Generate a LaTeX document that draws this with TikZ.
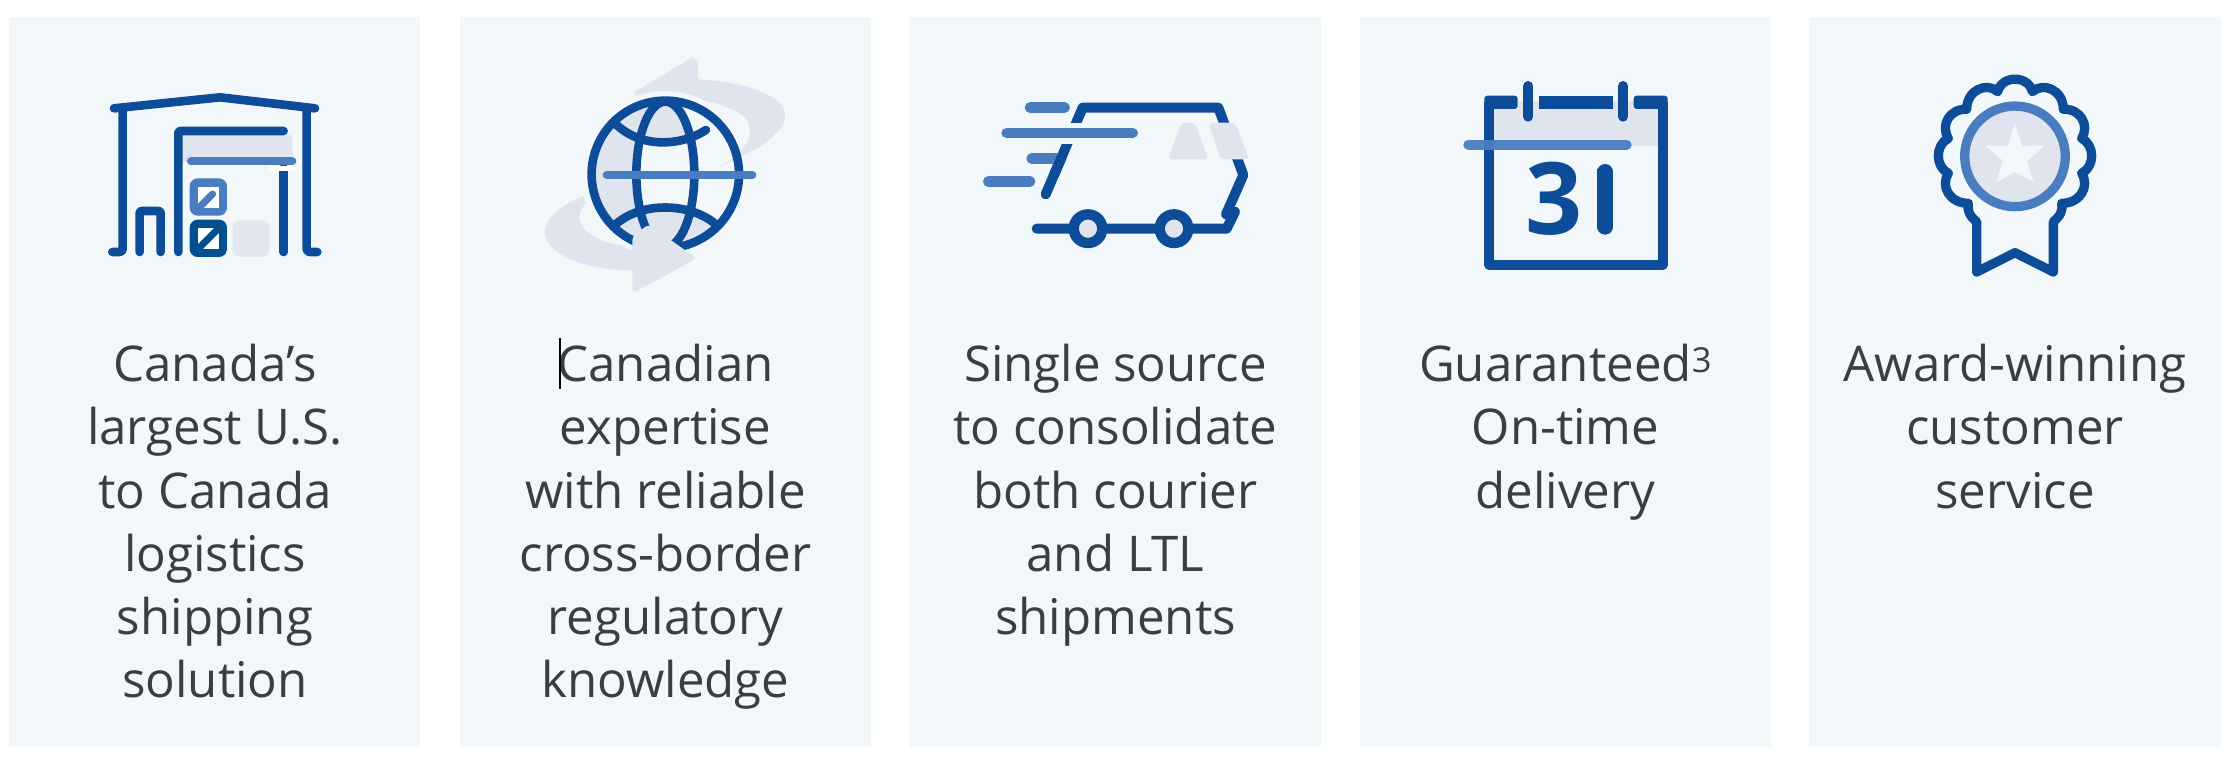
\documentclass[tikz,border=0pt]{standalone}
\usepackage{fontspec}
\setmainfont{Open Sans}
\definecolor{panelc}{HTML}{F2F7FA}
\definecolor{darkb}{HTML}{0D4C99}
\definecolor{boxb}{HTML}{00508F}
\definecolor{midb}{HTML}{4A7DC0}
\definecolor{grayb}{HTML}{E0E4EE}
\definecolor{grayc}{HTML}{E3E8F0}
\definecolor{textc}{HTML}{3D3D40}
\tikzset{
  panel/.style={fill=panelc,draw=none},
  lbl/.style={anchor=north,align=center,inner sep=0pt,outer sep=0pt,text=textc,
    font=\fontsize{49.2}{63.1}\selectfont,
    execute at begin node={\rule{0pt}{40pt}}},
  thick8/.style={draw=darkb,line width=8.6pt,line cap=round,line join=round},
  bar8/.style={draw=midb,line width=8pt,line cap=round},
  zoomed/.style={x=0.33333pt,y=-0.33333pt}
}
\begin{document}
\begin{tikzpicture}[x=1pt,y=-1pt]
\useasboundingbox (0,0) rectangle (2230,760);
\fill[white] (0,0) rectangle (2230,760);
\foreach \a/\b in {9/420,460/871,910/1320.5,1360/1771,1809/2221}
  \fill[panel] (\a,17) rectangle (\b,746.7);

% Icon 1: warehouse
\begin{scope}[shift={(0,40)},zoomed]
\fill[grayb,rounded corners=3pt] (547,285) rectangle (877,365);
\fill[grayb] (547,300) rectangle (600,365);
\draw[thick8] (342,205) -- (660,172) -- (945,205);
\draw[thick8,rounded corners=3pt] (337,636) -- (368,636) -- (368,205);
\draw[thick8,rounded corners=3pt] (952,636) -- (920,636) -- (920,205);
\draw[thick8,rounded corners=2pt] (419,636) -- (419,513) -- (482,513) -- (482,636);
\draw[thick8,rounded corners=2pt] (535,636) -- (535,273) -- (851,273);
\draw[thick8] (851,385) -- (851,636);
\fill[white] (807,378) rectangle (885,393);
\draw[bar8] (573,364) -- (877,364);
\fill[midb,rounded corners=8pt] (569,415) rectangle (681,527);
\fill[white] (594,440) rectangle (657,503);
\begin{scope}
\clip (594,440) rectangle (657,503);
\draw[midb,line width=7pt,line cap=round] (590,510) -- (638,462);
\end{scope}
\fill[boxb,rounded corners=8pt] (569,539) rectangle (681,651);
\fill[white] (594,564) rectangle (657,627);
\begin{scope}
\clip (594,564) rectangle (657,627);
\draw[boxb,line width=7pt] (580,641) -- (671,550);
\end{scope}
\fill[grayc,rounded corners=8pt] (698,540) rectangle (809,651);
\end{scope}

% Icon 2: globe
\begin{scope}[shift={(500,40)},zoomed]
\def\toparrow{(400,158) -- (578,52) -- (594,62) -- (594,118) .. controls (730,125) and (855,165) .. (855,225) .. controls (855,285) and (760,335) .. (650,385) .. controls (680,370) and (700,355) .. (722,335) .. controls (760,290) and (765,240) .. (700,210) .. controls (680,200) and (650,188) .. (590,178) -- (420,178) -- cycle}
\fill[grayb] \toparrow;
\fill[grayb] (397,692) .. controls (250,690) and (135,640) .. (135,575) .. controls (135,530) and (195,490) .. (250,468) -- (256,490) .. controls (240,510) and (235,530) .. (240,545) .. controls (255,590) and (330,618) .. (397,618) -- cycle;
\fill[panelc] (496,403) circle[radius=83.3pt];
\begin{scope}
\clip (496,403) circle[radius=73.7pt];
\fill[grayb] (496,403) circle[radius=80pt];
\fill[panelc] (409,300) .. controls (460,312) and (530,312) .. (581,295)
  .. controls (570,240) and (545,190) .. (510,180) -- (800,100) -- (800,565) -- (650,555)
  .. controls (600,505) and (450,490) .. (409,510) -- cycle;
\end{scope}
\begin{scope}
\clip (640,300) rectangle (800,400);
\fill[grayb] \toparrow;
\end{scope}
\draw[thick8] (496,403) circle[radius=73.7pt];
\draw[thick8] (496,403) ellipse[x radius=29pt,y radius=72.7pt];
\draw[thick8] (345,250) .. controls (420,325) and (540,320) .. (618,270);
\draw[thick8] (345,555) .. controls (420,485) and (570,485) .. (650,555);
\fill[grayb,rounded corners=4pt] (590,655) -- (397,760) -- (397,590) -- (445,553) -- cycle;
\draw[bar8] (320,405) -- (757,405);
\end{scope}

% Icon 3: van
\begin{scope}[shift={(950,70)},zoomed]
\draw[thick8,line width=10pt] (287,373) -- (398,113) -- (805,113) -- (880,315) -- (828,433);
\fill[panelc] (330,158) rectangle (412,222);
\draw[midb,line width=10.6pt,line cap=round] (240,113) -- (344,113);
\draw[midb,line width=10.6pt,line cap=round] (170,189) -- (548,189);
\draw[midb,line width=10.6pt,line cap=round] (245,266) -- (325,266);
\draw[midb,line width=10.6pt,line cap=round] (115,334) -- (240,334);
\draw[thick8,line width=10pt] (312,315) -- (335,262);
\fill[grayb,rounded corners=4pt] (695,158) -- (735,158) -- (775,268) -- (653,268) -- cycle;
\fill[grayb,rounded corners=4pt] (775,158) -- (855,158) -- (898,268) -- (812,268) -- cycle;
\draw[thick8,line width=10pt] (855,425) -- (830,476) -- (260,476);
\foreach \c in {414,672}
  \draw[draw=darkb,line width=10.4pt,fill=grayb] (\c,476) circle[radius=14.3pt];
\end{scope}

% Icon 4: calendar
\begin{scope}[shift={(1430,60)},zoomed]
\fill[grayb] (193,147) rectangle (683,257);
\fill[grayb] (263,122) rectangle (611,147);
\draw[darkb,line width=10pt,line join=round] (178,130) -- (178,615) -- (698,615) -- (698,130);
\fill[darkb,rounded corners=3pt] (163,107) -- (263,107) -- (263,147) -- (163,147) -- cycle;
\fill[darkb] (327,107) rectangle (549,147);
\fill[darkb,rounded corners=3pt] (611,107) -- (713,107) -- (713,147) -- (611,147) -- cycle;
\fill[darkb] (163,125) rectangle (193,160);
\fill[darkb] (683,125) rectangle (713,160);
\draw[darkb,line width=10pt,line cap=round] (295,78) -- (295,170);
\draw[darkb,line width=10pt,line cap=round] (579,78) -- (579,170);
\draw[midb,line width=10pt,line cap=round,opacity=.95] (115,254) -- (590,254);
\node[inner sep=0pt,text=darkb,font=\fontsize{100}{100}\bfseries\selectfont] (d3) at (372,417) {3};
\begin{scope}
\clip (502,330) rectangle (550,505);
\node[inner sep=0pt,text=darkb,font=\fontsize{100}{100}\bfseries\selectfont] (d1) at (510,417) {1};
\end{scope}
\draw[darkb,line width=16pt,line cap=round] (526,336) -- (526,500);
\end{scope}

% Icon 5: rosette
\begin{scope}[shift={(1890,60)},zoomed]
\draw[thick8,line width=9.3pt]
 (323,95) .. controls (335,45) and (415,45) .. (427,95)
 .. controls (460,65) and (520,90) .. (520,148)
 .. controls (570,145) and (600,195) .. (575,235)
 .. controls (615,255) and (615,320) .. (575,340)
 .. controls (600,380) and (570,430) .. (515,430)
 .. controls (520,450) and (510,470) .. (490,485)
 -- (490,636) -- (375,578) -- (260,636) -- (260,485)
 .. controls (240,470) and (230,450) .. (235,430)
 .. controls (180,430) and (150,380) .. (175,340)
 .. controls (135,320) and (135,255) .. (175,235)
 .. controls (150,195) and (180,145) .. (230,148)
 .. controls (230,90) and (290,65) .. (323,95) -- cycle;
\draw[midb,line width=9.3pt,fill=grayb] (375,289) circle[radius=50.3pt];
\fill[panelc] (375,192) -- (397,257) -- (465,257) -- (411,302) -- (430,365) -- (375,337) -- (320,365) -- (339,302) -- (285,257) -- (353,257) -- cycle;
\end{scope}

% Labels
\node[lbl] (t1) at (215,344.5) {Canada’s\\largest U.S.\\to Canada\\logistics\\shipping\\solution};
\node[lbl] (t2) at (665.5,344.5) {Canadian\\expertise\\with reliable\\cross-border\\regulatory\\knowledge};
\node[lbl] (t3) at (1115.5,344.5) {Single source\\to consolidate\\both courier\\and LTL\\shipments};
\node[lbl] (t4) at (1565.5,344.5) {Guaranteed\textsuperscript{3}\\On-time\\delivery};
\node[lbl] (t5) at (2015,344.5) {Award-winning\\customer\\service};
\coordinate (caretA) at (559.8,338);
\coordinate (caretB) at (559.8,389);
\draw[black,line width=1.4pt] (caretA) -- (caretB);
\end{tikzpicture}
\end{document}
